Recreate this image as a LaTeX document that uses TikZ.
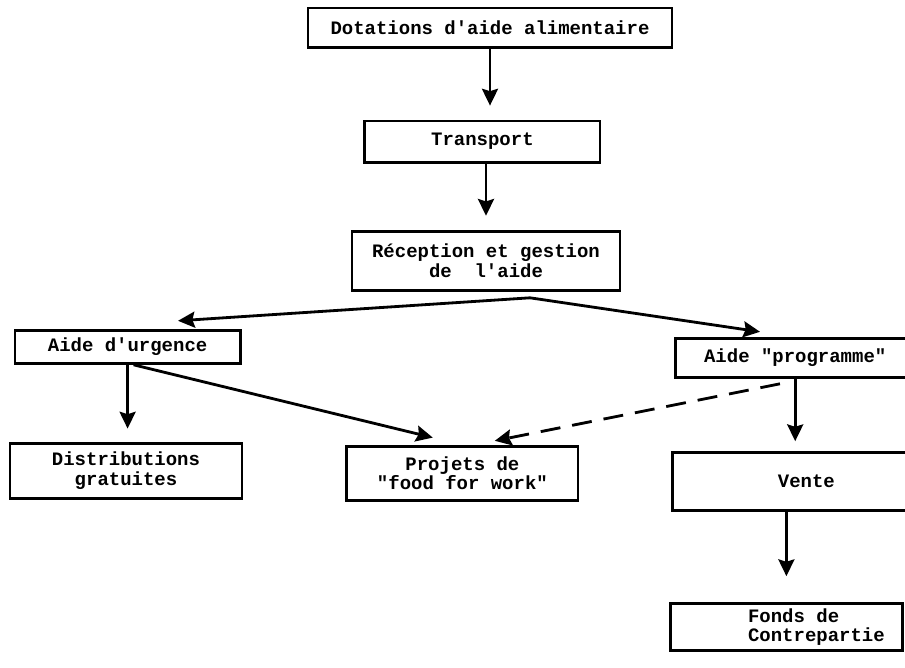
\documentclass[tikz,border=0pt]{standalone}
\usepackage{fontspec}
\setmonofont{Liberation Mono}
\usepackage{tikz}
\usetikzlibrary{arrows.meta,shapes,positioning}
\tikzstyle{aidebox}   = [rectangle, align=center, draw=black, line width=2pt, inner sep=2pt, font=\ttfamily\bfseries\fontsize{13.5pt}{14pt}\selectfont]
\tikzstyle{arrow}     = [line width=2pt,-{Stealth[length=0.42cm,width=0.4cm,inset=0.06cm]}]
\tikzstyle{dasharrow} = [arrow, dash pattern=on 0.5cm off 0.3cm]

\begin{document}
\begin{tikzpicture}[node distance=2cm]
            \useasboundingbox (0,0) rectangle (22.625,-16.675);
            \clip (0,0) rectangle (22.625,-16.675);
            %Create nodes of the main chain
            \node (dotations) [aidebox, minimum width=9.1cm, minimum height=0.98cm] at (12.25,-0.69) {Dotations d'aide alimentaire};
            \node (transport) [aidebox, minimum width=5.88cm, minimum height=1.03cm, below of = dotations, xshift=-0.19cm, yshift=-0.85cm] {Transport};
            \node (reception) [aidebox, minimum width=6.7cm, minimum height=1.48cm, below of = transport, xshift=0.09cm, yshift=-0.98cm] {Réception et gestion\\de\ \ l'aide};
            \coordinate (split) at ([xshift=1.1cm, yshift=-0.15cm]reception.south);
            %Create nodes of the two branches
            \node (urgence)   [aidebox, minimum width=5.63cm, minimum height=0.83cm, below of = reception, xshift=-8.96cm, yshift=-0.15cm] {Aide d'urgence};
            \node (progr)     [aidebox, minimum width=6.0cm, minimum height=0.98cm, below of = reception, xshift=7.73cm, yshift=-0.43cm] {Aide "programme"};
            \node (distrib)   [aidebox, minimum width=5.8cm, minimum height=1.38cm, below of = urgence, xshift=-0.04cm, yshift=-1.1cm] {Distributions\\gratuites};
            \node (projets)   [aidebox, minimum width=5.78cm, minimum height=1.35cm, right of = distrib, xshift=6.41cm, yshift=-0.06cm] {Projets de\\"food for work"};
            \node (vente)     [aidebox, minimum width=6.7cm, minimum height=1.45cm, below of = progr, xshift=0.28cm, yshift=-1.09cm] {Vente};
            \node (fonds)     [aidebox, minimum width=5.8cm, minimum height=1.18cm, align=left, below of = vente, xshift=-0.5cm, yshift=-1.64cm] {\hspace*{1.5cm}Fonds de\\\hspace*{1.5cm}Contrepartie};
            %Connect main chain
            \draw [arrow, shorten >=0.35cm] (dotations.south) -- (dotations.south |- transport.north);
            \draw [arrow, shorten >=0.35cm] (reception.north |- transport.south) -- (reception.north);
            \draw [arrow] (split) -- ([xshift=1.26cm, yshift=0.2cm]urgence.north);
            \draw [arrow] (split) -- ([xshift=-0.88cm, yshift=0.13cm]progr.north);
            %Connect branches
            \draw [arrow, shorten >=0.33cm] (urgence.south) -- (urgence.south |- distrib.north);
            \draw [arrow] ([xshift=0.15cm]urgence.south) -- ([xshift=-0.74cm, yshift=0.18cm]projets.north);
            \draw [dasharrow] ([xshift=-0.38cm, yshift=-0.12cm]progr.south) -- ([xshift=0.81cm, yshift=0.1cm]projets.north);
            \draw [arrow, shorten >=0.25cm] (progr.south) -- (progr.south |- vente.north);
            \draw [arrow, shorten >=0.65cm] (fonds.north |- vente.south) -- (fonds.north);
        \end{tikzpicture}
\end{document}
